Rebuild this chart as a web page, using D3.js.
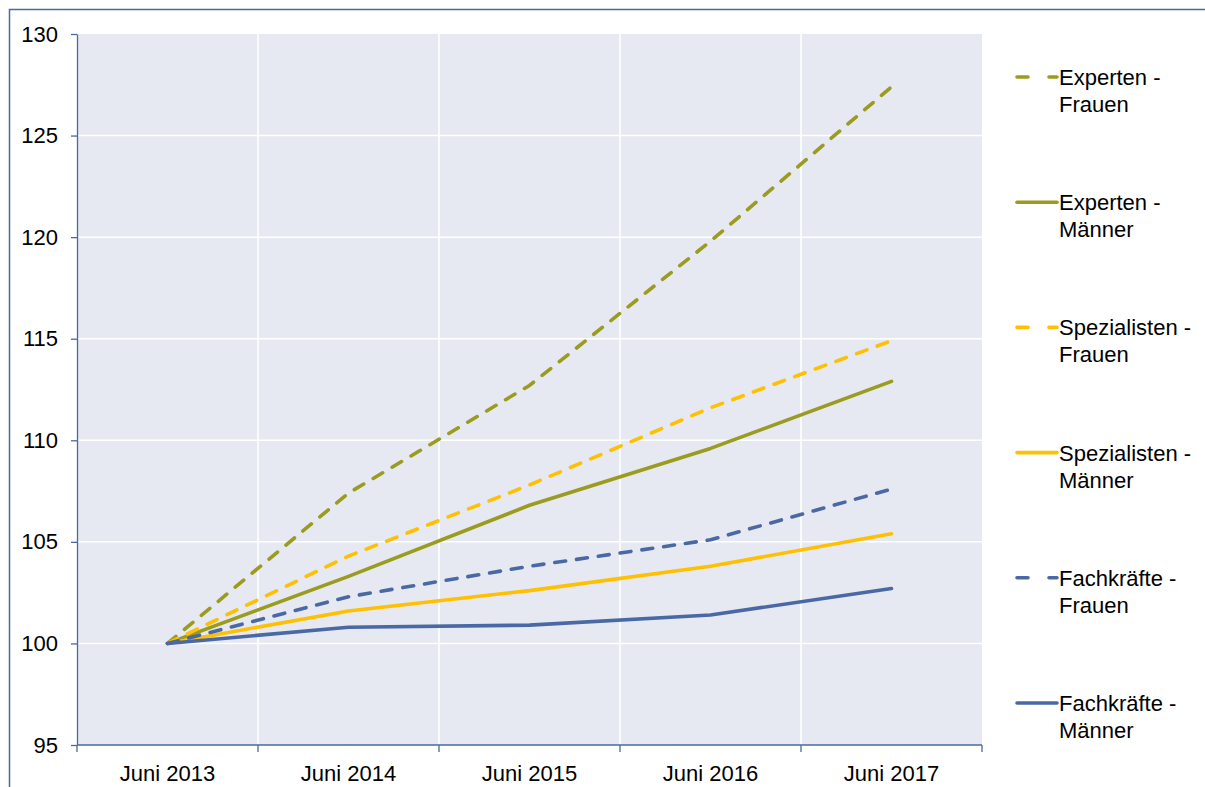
<!DOCTYPE html>
<html>
<head>
<meta charset="utf-8">
<script src="https://cdn.jsdelivr.net/npm/d3@7"></script>
<style>
  body { margin: 0; background: #fff; }
  svg { display: block; font-family: "Liberation Sans", Arial, sans-serif; }
</style>
</head>
<body>
<svg id="chart" width="1205" height="787"></svg>
<script>
const categories = ["Juni 2013", "Juni 2014", "Juni 2015", "Juni 2016", "Juni 2017"]
const yTicks = [95, 100, 105, 110, 115, 120, 125, 130]

const seriesNames = [
  "Experten - Frauen",
  "Experten - Männer",
  "Spezialisten - Frauen",
  "Spezialisten - Männer",
  "Fachkräfte - Frauen",
  "Fachkräfte - Männer",
]
const expertenFrauen = [100, 107.4, 112.7, 119.8, 127.4]
const expertenMaenner = [100, 103.3, 106.8, 109.6, 112.9]
const spezialistenFrauen = [100, 104.3, 107.8, 111.6, 114.9]
const spezialistenMaenner = [100, 101.6, 102.6, 103.8, 105.4]
const fachkraefteFrauen = [100, 102.3, 103.8, 105.1, 107.6]
const fachkraefteMaenner = [100, 100.8, 100.9, 101.4, 102.7]

const seriesValues = [
  expertenFrauen,
  expertenMaenner,
  spezialistenFrauen,
  spezialistenMaenner,
  fachkraefteFrauen,
  fachkraefteMaenner,
]
const seriesColors = ["#9b9b1f", "#9b9b1f", "#ffc000", "#ffc000", "#4a69a4", "#4a69a4"]
const seriesDashed = [true, false, true, false, true, false]

const svg = d3.select("#chart")
const margin = { left: 77, top: 34, right: 982, bottom: 745 }
const axisColor = "#4a69a4"
const fontSize = 22

// outer frame (partly cut by the window)
svg.append("rect")
  .attr("x", 9.5).attr("y", 9.5)
  .attr("width", 1400).attr("height", 1000)
  .attr("fill", "none").attr("stroke", axisColor).attr("stroke-width", 1.5)

const x = d3.scaleBand().domain(categories).range([margin.left, margin.right])
const y = d3.scaleLinear().domain([95, 130]).range([margin.bottom, margin.top])

// plot background
svg.append("rect")
  .attr("x", margin.left).attr("y", margin.top)
  .attr("width", margin.right - margin.left).attr("height", margin.bottom - margin.top)
  .attr("fill", "#e6e9f1")

// grid
const grid = svg.append("g").attr("stroke", "#fff").attr("stroke-width", 1.5)
grid.selectAll("line.h").data(yTicks.slice(1, -1)).join("line")
  .attr("x1", margin.left).attr("x2", margin.right)
  .attr("y1", (d) => y(d)).attr("y2", (d) => y(d))
grid.selectAll("line.v").data(categories.slice(1)).join("line")
  .attr("x1", (d) => x(d)).attr("x2", (d) => x(d))
  .attr("y1", margin.top).attr("y2", margin.bottom)

// y axis
const yAxis = svg.append("g")
  .attr("transform", `translate(${margin.left},0)`)
  .call(d3.axisLeft(y).tickValues(yTicks).tickSize(6).tickSizeOuter(0).tickPadding(13))
yAxis.attr("font-family", null).attr("font-size", fontSize)
yAxis.selectAll("path, line").attr("stroke", axisColor).attr("stroke-width", 1.3)
yAxis.selectAll("text").attr("fill", "#000")

// x axis with ticks at band boundaries
const xAxis = svg.append("g").attr("transform", `translate(0,${margin.bottom})`)
xAxis.append("line")
  .attr("x1", margin.left).attr("x2", margin.right)
  .attr("stroke", axisColor).attr("stroke-width", 1.3)
const bounds = categories.map((c) => x(c)).concat([margin.right])
xAxis.selectAll("line.tick").data(bounds).join("line")
  .attr("class", "tick")
  .attr("x1", (d) => d).attr("x2", (d) => d)
  .attr("y1", 0).attr("y2", 7)
  .attr("stroke", axisColor).attr("stroke-width", 1.3)
xAxis.selectAll("text").data(categories).join("text")
  .attr("x", (d) => x(d) + x.bandwidth() / 2)
  .attr("y", 36)
  .attr("text-anchor", "middle")
  .attr("font-size", fontSize)
  .text((d) => d)

// lines
const line = d3.line()
  .x((d, i) => x(categories[i]) + x.bandwidth() / 2)
  .y((d) => y(d))

svg.append("g").selectAll("path").data(seriesValues).join("path")
  .attr("d", (d) => line(d))
  .attr("fill", "none")
  .attr("stroke", (d, i) => seriesColors[i])
  .attr("stroke-width", 3.6)
  .attr("stroke-linecap", "round")
  .attr("stroke-linejoin", "round")
  .attr("stroke-dasharray", (d, i) => (seriesDashed[i] ? "11,11" : null))

// legend
const legend = svg.append("g")
const items = legend.selectAll("g").data(seriesNames).join("g")
  .attr("transform", (d, i) => `translate(1015,${77 + i * 125.2})`)
items.append("line")
  .attr("x1", 2).attr("x2", 42)
  .attr("stroke", (d, i) => seriesColors[i])
  .attr("stroke-width", 3.6)
  .attr("stroke-linecap", "round")
  .attr("stroke-dasharray", (d, i) => (seriesDashed[i] ? "11,21" : null))
const labels = items.append("text").attr("font-size", fontSize).attr("fill", "#000")
labels.append("tspan").attr("x", 44).attr("y", 8).text((d) => d.split(" - ")[0] + " -")
labels.append("tspan").attr("x", 44).attr("y", 35).text((d) => d.split(" - ")[1])
</script>
</body>
</html>
